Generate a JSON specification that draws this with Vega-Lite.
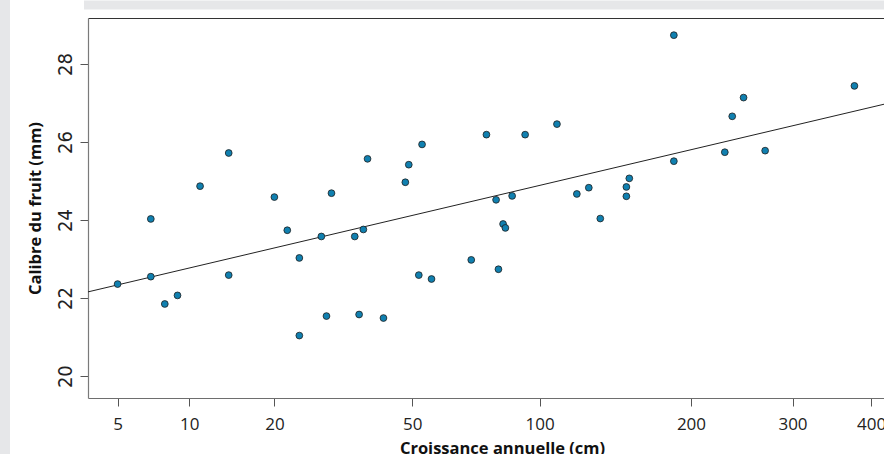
{
  "$schema": "https://vega.github.io/schema/vega-lite/v6.json",
  "autosize": {"type": "none"},
  "width": 796,
  "height": 380,
  "padding": {"left": 88, "top": 18, "right": 0, "bottom": 56},
  "background": "#e6e7e9",
  "config": {
    "view": {"fill": "white", "stroke": "white", "strokeWidth": 156},
    "axis": {"grid": false}
  },
  "datasets": {
    "points": [
      {"croissance": 5, "calibre": 22.36},
      {"croissance": 7, "calibre": 24.03},
      {"croissance": 7, "calibre": 22.55},
      {"croissance": 8, "calibre": 21.85},
      {"croissance": 9, "calibre": 22.07},
      {"croissance": 11, "calibre": 24.87},
      {"croissance": 14, "calibre": 25.72},
      {"croissance": 14, "calibre": 22.59},
      {"croissance": 20, "calibre": 24.59},
      {"croissance": 22, "calibre": 23.74},
      {"croissance": 24, "calibre": 23.03},
      {"croissance": 24, "calibre": 21.04},
      {"croissance": 28, "calibre": 23.58},
      {"croissance": 29, "calibre": 21.54},
      {"croissance": 30, "calibre": 24.69},
      {"croissance": 35, "calibre": 23.58},
      {"croissance": 36, "calibre": 21.58},
      {"croissance": 37, "calibre": 23.76},
      {"croissance": 38, "calibre": 25.57},
      {"croissance": 42, "calibre": 21.49},
      {"croissance": 48, "calibre": 24.97},
      {"croissance": 49, "calibre": 25.42},
      {"croissance": 52, "calibre": 22.59},
      {"croissance": 53, "calibre": 25.94},
      {"croissance": 56, "calibre": 22.49},
      {"croissance": 70, "calibre": 22.98},
      {"croissance": 76, "calibre": 26.19},
      {"croissance": 80, "calibre": 24.52},
      {"croissance": 81, "calibre": 22.74},
      {"croissance": 83, "calibre": 23.90},
      {"croissance": 84, "calibre": 23.80},
      {"croissance": 87, "calibre": 24.62},
      {"croissance": 93, "calibre": 26.19},
      {"croissance": 109, "calibre": 26.46},
      {"croissance": 120, "calibre": 24.67},
      {"croissance": 127, "calibre": 24.83},
      {"croissance": 134, "calibre": 24.04},
      {"croissance": 153, "calibre": 25.07},
      {"croissance": 151, "calibre": 24.85},
      {"croissance": 151, "calibre": 24.61},
      {"croissance": 186, "calibre": 28.74},
      {"croissance": 186, "calibre": 25.51},
      {"croissance": 230, "calibre": 25.74},
      {"croissance": 237, "calibre": 26.66},
      {"croissance": 248, "calibre": 27.14},
      {"croissance": 270, "calibre": 25.78},
      {"croissance": 377, "calibre": 27.44}
    ],
    "fit": [
      {"croissance": 3.61, "calibre": 22.16},
      {"croissance": 418.6, "calibre": 26.97}
    ]
  },
  "layer": [
    {
      "data": {"name": "fit"},
      "mark": {"type": "line", "strokeOpacity": 0},
      "encoding": {
        "x": {
          "field": "croissance", "type": "quantitative",
          "scale": {"type": "pow", "exponent": 0.25, "domain": [3.61, 418.6], "zero": false, "nice": false},
          "axis": {"orient": "top", "title": null, "labels": false, "ticks": false, "grid": false,
                   "domainColor": "#e6e7e9", "domainWidth": 9, "domainCap": "square", "offset": 13.5}
        },
        "y": {
          "field": "calibre", "type": "quantitative",
          "scale": {"domain": [19.44, 29.18], "zero": false, "nice": false}
        }
      }
    },
    {
      "data": {"name": "fit"},
      "mark": {"type": "line", "color": "#222222", "strokeWidth": 1},
      "encoding": {
        "x": {
          "field": "croissance", "type": "quantitative",
          "scale": {"type": "pow", "exponent": 0.25, "domain": [3.61, 418.6], "zero": false, "nice": false},
          "axis": {"orient": "top", "title": null, "labels": false, "ticks": false, "grid": false,
                   "domainColor": "#333333", "domainWidth": 1.2, "offset": 0}
        },
        "y": {
          "field": "calibre", "type": "quantitative",
          "scale": {"domain": [19.44, 29.18], "zero": false, "nice": false}
        }
      }
    },
    {
      "data": {"name": "points"},
      "mark": {"type": "circle", "size": 46, "fill": "#1080b0", "stroke": "#1e1e1e", "strokeWidth": 0.8, "opacity": 1, "fillOpacity": 1},
      "encoding": {
        "x": {
          "field": "croissance", "type": "quantitative",
          "scale": {"type": "pow", "exponent": 0.25, "domain": [3.61, 418.6], "zero": false, "nice": false},
          "axis": {
            "orient": "bottom", "values": [5, 10, 20, 50, 100, 200, 300, 400], "format": "d",
            "title": "Croissance annuelle (cm)", "grid": false,
            "domainColor": "#6e6e6e", "domainWidth": 1.2, "tickColor": "#555555", "tickSize": 8, "tickWidth": 1,
            "labelFont": "Open Sans", "labelFontSize": 17, "labelColor": "#222222", "labelPadding": 10,
            "labelFlush": false, "labelOverlap": false,
            "titleFont": "Open Sans", "titleFontWeight": "bold", "titleFontSize": 16.5, "titleColor": "#111111",
            "titlePadding": 8, "titleX": 414
          }
        },
        "y": {
          "field": "calibre", "type": "quantitative",
          "scale": {"domain": [19.44, 29.18], "zero": false, "nice": false},
          "axis": {
            "orient": "left", "values": [20, 22, 24, 26, 28],
            "title": "Calibre du fruit (mm)", "grid": false,
            "domainColor": "#7a7a7a", "domainWidth": 1.2, "tickColor": "#555555", "tickSize": 8, "tickWidth": 1,
            "labelAngle": -90, "labelAlign": "center", "labelBaseline": "alphabetic", "labelPadding": 9,
            "labelFont": "Liberation Sans Narrow, DejaVu Sans Condensed, sans-serif", "labelFontSize": 20, "labelColor": "#222222",
            "titleFont": "Open Sans", "titleFontWeight": "bold", "titleFontSize": 16.5, "titleColor": "#111111",
            "titlePadding": 12
          }
        }
      }
    }
  ],
  "resolve": {"axis": {"x": "independent"}}
}
